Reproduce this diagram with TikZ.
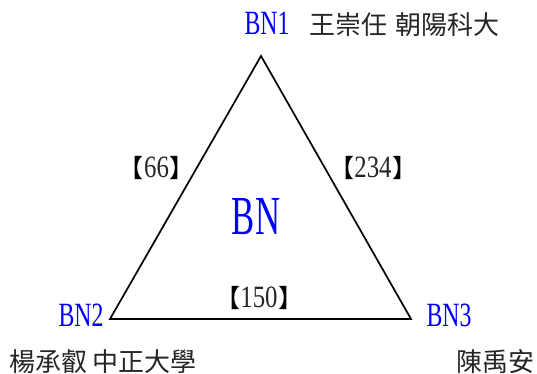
\documentclass[tikz,border=0pt]{standalone}
\usepackage{fontspec}
\usepackage{graphicx}
\setmainfont{Liberation Serif}
\newfontfamily\cjk[RawFeature={+palt}]{Noto Sans CJK TC}
\newcommand{\nar}[2]{\scalebox{#1}[1]{#2}}
\begin{document}
\begin{tikzpicture}[x=1pt,y=-1pt,
  bnlab/.style={inner sep=0pt,anchor=base,text=blue,font=\fontsize{34}{34}\selectfont},
  cjklab/.style={inner sep=0pt,anchor=base west,text=black!85,font=\cjk\fontsize{26}{26}\selectfont},
  wlab/.style={inner sep=0pt,anchor=base,text=black!85,font=\fontsize{31}{31}\selectfont},
  edge/.style={line width=1.7pt,line join=miter}]
\useasboundingbox (0,0) rectangle (537,374);
\coordinate (v1) at (261,56);
\coordinate (v2) at (110,319);
\coordinate (v3) at (411,319);
\draw[edge] (v1) -- (v2) -- (v3) -- cycle;
\node[bnlab] (bn1) at (267,35) {\nar{0.7}{BN1}};
\node[bnlab] (bn2) at (81,326) {\nar{0.7}{BN2}};
\node[bnlab] (bn3) at (449,326) {\nar{0.7}{BN3}};
\node[bnlab,font=\fontsize{55}{55}\selectfont] (bn) at (256,234) {\nar{0.63}{BN}};
\node[cjklab] (p1) at (309,35) {王崇任\hspace{8pt}朝陽科大};
\node[cjklab] (p2) at (9,371) {楊承叡\hspace{5pt}中正大學};
\node[cjklab] (p3) at (456,371) {陳禹安};
\newcommand{\wbox}[1]{{\cjk\fontsize{25}{25}\selectfont\color{black}【}\hspace{1pt}\nar{0.8}{#1}\hspace{1pt}{\cjk\fontsize{25}{25}\selectfont\color{black}】}}
\node[wlab] (w12) at (156.5,177) {\wbox{66}};
\node[wlab] (w13) at (373,177) {\wbox{234}};
\node[wlab] (w23) at (259,307) {\wbox{150}};
\end{tikzpicture}
\end{document}
